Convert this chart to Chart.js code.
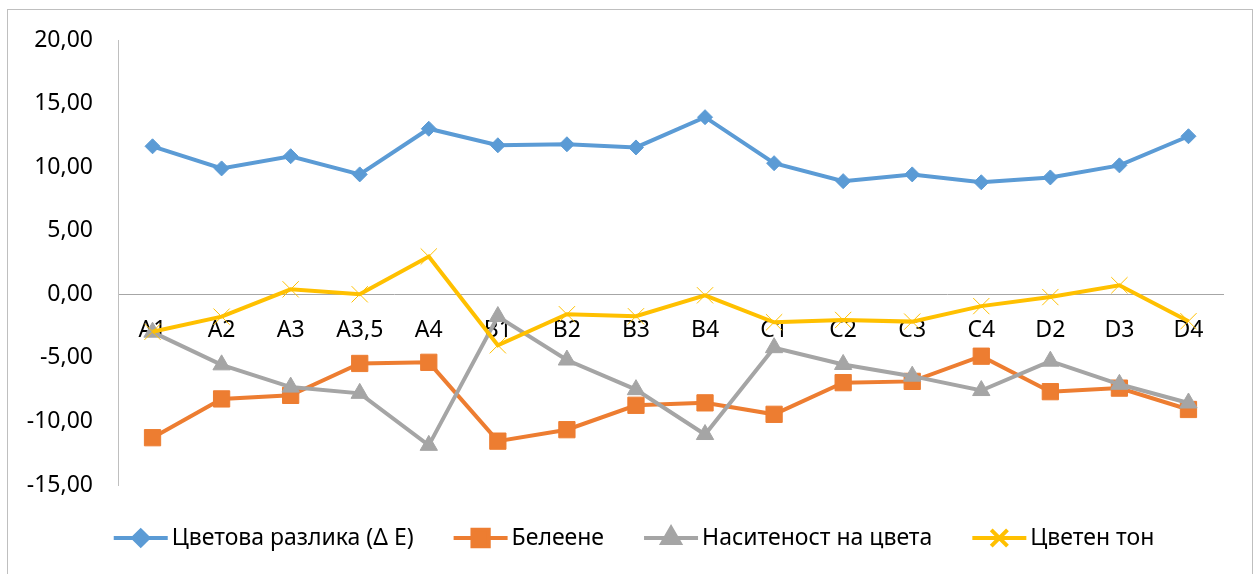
<!DOCTYPE html>
<html>
<head>
<meta charset="utf-8">
<script src="https://cdn.jsdelivr.net/npm/chart.js@4/dist/chart.umd.min.js"></script>
<style>
  html, body { margin: 0; padding: 0; background: #ffffff; overflow: hidden; }
  #wrap { position: relative; width: 1255px; height: 574px; }
</style>
</head>
<body>
<div id="wrap"><canvas id="c" width="1255" height="574"></canvas></div>
<script>
// Samples along the category axis
const categories = ['A1', 'A2', 'A3', 'A3,5', 'A4', 'B1', 'B2', 'B3', 'B4', 'C1', 'C2', 'C3', 'C4', 'D2', 'D3', 'D4'];

// Series names
const seriesNames = ['Цветова разлика (Δ E)', 'Белеене', 'Наситеност на цвета', 'Цветен тон'];

// Series values
const colorDifference = [11.64, 9.90, 10.86, 9.43, 13.02, 11.72, 11.80, 11.55, 13.93, 10.31, 8.90, 9.43, 8.81, 9.19, 10.14, 12.43];
const whitening       = [-11.28, -8.23, -7.95, -5.44, -5.35, -11.55, -10.65, -8.73, -8.54, -9.44, -6.95, -6.85, -4.87, -7.66, -7.38, -9.06];
const saturation      = [-2.98, -5.55, -7.30, -7.79, -11.88, -1.75, -5.17, -7.50, -11.03, -4.20, -5.52, -6.44, -7.57, -5.26, -7.08, -8.55];
const hue             = [-2.95, -1.76, 0.39, 0.00, 2.97, -4.01, -1.57, -1.73, -0.08, -2.20, -2.02, -2.15, -0.93, -0.22, 0.71, -2.12];

// Value axis ticks
const yMin = -15;
const yMax = 20;
const yStep = 5;

const seriesValues = [colorDifference, whitening, saturation, hue];
const colors = ['#5B9BD5', '#ED7D31', '#A5A5A5', '#FFC000'];
const markers = ['rectRot', 'rect', 'triangle', 'crossRot'];
const markerRadius = [7.5, 11.5, 10, 11.5];
const FONT_FAMILY = '"Noto Sans", "Open Sans", sans-serif';
const FONT_SIZE = 23;
const LINE_W = 4;

const fmt = v => v.toFixed(2).replace('.', ',');

// Outer frame around the whole chart
const framePlugin = {
  id: 'frame',
  afterDraw(chart) {
    const ctx = chart.ctx;
    ctx.save();
    ctx.strokeStyle = '#BFBFBF';
    ctx.lineWidth = 1;
    ctx.strokeRect(7.5, 9.5, 1245, 600);
    ctx.restore();
  }
};

// Legend row: line sample with marker, then the series name
const lineLegendPlugin = {
  id: 'lineLegend',
  afterDraw(chart) {
    const ctx = chart.ctx;
    const cy = 538;
    const sampleW = 54, textGap = 4, itemGap = 40;
    ctx.save();
    ctx.font = FONT_SIZE + 'px ' + FONT_FAMILY;
    const widths = seriesNames.map(n => ctx.measureText(n).width);
    const total = widths.reduce((a, w) => a + sampleW + textGap + w, 0) + itemGap * (seriesNames.length - 1);
    let x = 634 - total / 2;
    seriesNames.forEach((name, i) => {
      ctx.strokeStyle = colors[i];
      ctx.lineWidth = LINE_W;
      ctx.lineCap = 'butt';
      ctx.beginPath();
      ctx.moveTo(x, cy);
      ctx.lineTo(x + sampleW, cy);
      ctx.stroke();
      ctx.fillStyle = colors[i];
      ctx.strokeStyle = colors[i];
      Chart.helpers.drawPoint(ctx, {
        pointStyle: markers[i], radius: markerRadius[i], borderWidth: 1, rotation: 0
      }, x + sampleW / 2, cy);
      ctx.fillStyle = '#000000';
      ctx.textAlign = 'left';
      ctx.textBaseline = 'middle';
      ctx.fillText(name, x + sampleW + textGap, cy);
      x += sampleW + textGap + widths[i] + itemGap;
    });
    ctx.restore();
  }
};

const datasets = seriesNames.map((name, i) => ({
  label: name,
  data: seriesValues[i],
  borderColor: colors[i],
  backgroundColor: colors[i],
  borderWidth: LINE_W,
  pointStyle: markers[i],
  pointRadius: markerRadius[i],
  pointHoverRadius: markerRadius[i],
  pointBorderWidth: 1,
  pointBorderColor: colors[i],
  pointBackgroundColor: colors[i],
  tension: 0,
  order: seriesNames.length - i
}));

new Chart(document.getElementById('c'), {
  type: 'line',
  data: { labels: categories, datasets },
  options: {
    responsive: false,
    animation: false,
    devicePixelRatio: 1,
    layout: { padding: { left: 0, top: 40, right: 32, bottom: 89 } },
    plugins: { legend: { display: false }, tooltip: { enabled: false } },
    scales: {
      x: {
        type: 'category',
        offset: true,
        position: { y: 0 },
        grid: { display: false, drawTicks: false },
        border: { display: true, color: '#A6A6A6', width: 1 },
        ticks: {
          color: '#000000',
          font: { family: FONT_FAMILY, size: FONT_SIZE },
          padding: 22,
          maxRotation: 0,
          autoSkip: false
        }
      },
      y: {
        min: yMin,
        max: yMax,
        grid: { display: false, drawTicks: false },
        border: { display: true, color: '#BFBFBF', width: 1 },
        ticks: {
          stepSize: yStep,
          padding: 25,
          color: '#000000',
          font: { family: FONT_FAMILY, size: FONT_SIZE },
          callback: v => fmt(v)
        },
        afterFit(scale) { scale.width = 118; }
      }
    }
  },
  plugins: [framePlugin, lineLegendPlugin]
});
</script>
</body>
</html>
